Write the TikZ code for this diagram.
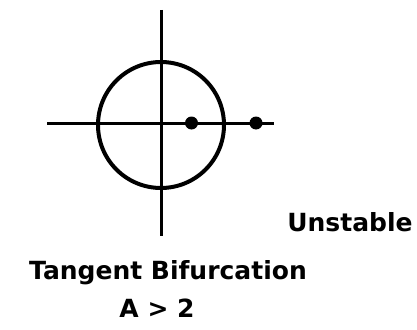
\documentclass[tikz,border=0pt]{standalone}
\usepackage{fontspec}
\setmainfont{DejaVu Sans}
\begin{document}
\begin{tikzpicture}[x=1pt,y=-1pt,
  axis/.style={line width=3pt},
  ring/.style={line width=4pt},
  pt/.style={circle,fill=black,inner sep=0pt,minimum size=13pt},
  lbl/.style={inner sep=0pt,font=\bfseries\fontsize{25}{30}\selectfont}]
\useasboundingbox (0,0) rectangle (417,329);
\coordinate (hl) at (47,123);
\coordinate (hr) at (274,123);
\coordinate (vt) at (161,10);
\coordinate (vb) at (161,236);
\draw[axis] (hl) -- (hr);
\draw[axis] (vt) -- (vb);
\node[ring,draw,circle,minimum size=126pt,inner sep=0pt] (c) at (161,125) {};
\node[pt] (p1) at (191.5,123) {};
\node[pt] (p2) at (256,123) {};
\node[lbl] (u) at (350,222) {Unstable};
\node[lbl] (t) at (168,273) {Tangent Bifurcation};
\node[lbl] (a) at (157,308) {A > 2};
\end{tikzpicture}
\end{document}
